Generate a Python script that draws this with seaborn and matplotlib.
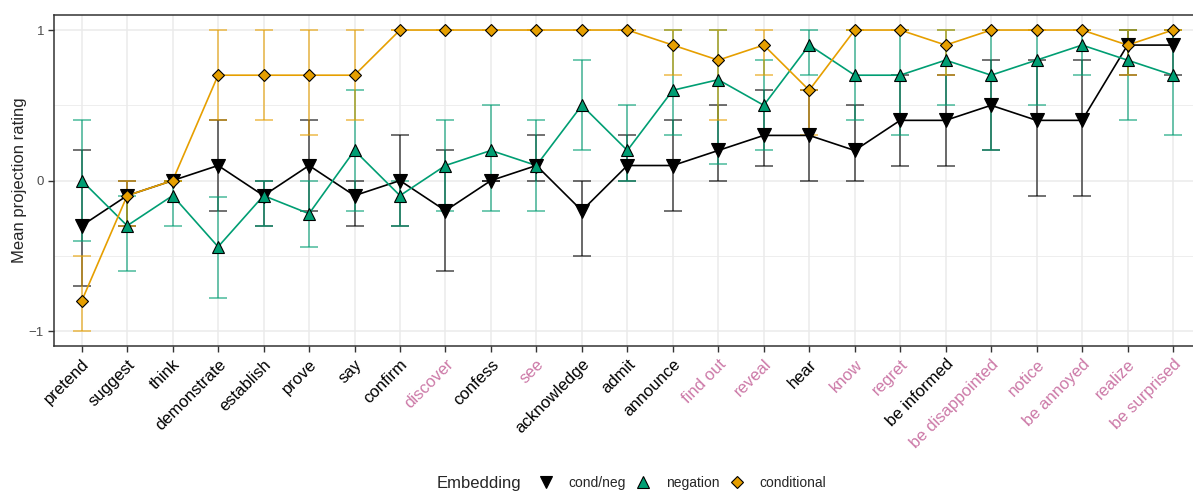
import numpy as np
import pandas as pd
import matplotlib
matplotlib.use('Agg')
import matplotlib.pyplot as plt
from matplotlib.lines import Line2D
import seaborn as sns

# verbs in plotted order
verbs = ['pretend', 'suggest', 'think', 'demonstrate', 'establish', 'prove', 'say',
         'confirm', 'discover', 'confess', 'see', 'acknowledge', 'admit', 'announce',
         'find out', 'reveal', 'hear', 'know', 'regret', 'be informed',
         'be disappointed', 'notice', 'be annoyed', 'realize', 'be surprised']
factive = ['discover', 'see', 'find out', 'reveal', 'know', 'regret', 'be disappointed',
           'notice', 'be annoyed', 'realize', 'be surprised']

# cond/neg
condneg_mean = [-0.3, -0.1, 0.0, 0.1, -0.1, 0.1, -0.1, 0.0, -0.2, 0.0, 0.1, -0.2, 0.1,
                0.1, 0.2, 0.3, 0.3, 0.2, 0.4, 0.4, 0.5, 0.4, 0.4, 0.9, 0.9]
condneg_lo = [-0.7, -0.3, 0.0, -0.2, -0.3, -0.2, -0.3, -0.3, -0.6, 0.0, 0.0, -0.5, 0.0,
              -0.2, 0.0, 0.1, 0.0, 0.0, 0.1, 0.1, 0.2, -0.1, -0.1, 0.7, 0.7]
condneg_hi = [0.2, 0.0, 0.0, 0.4, 0.0, 0.4, 0.0, 0.3, 0.2, 0.0, 0.3, 0.0, 0.3,
              0.4, 0.5, 0.6, 0.6, 0.5, 0.7, 0.7, 0.8, 0.8, 0.8, 1.0, 1.0]

# negation
neg_mean = [0.0, -0.3, -0.1, -0.44, -0.1, -0.22, 0.2, -0.1, 0.1, 0.2, 0.1, 0.5, 0.2,
            0.6, 0.67, 0.5, 0.9, 0.7, 0.7, 0.8, 0.7, 0.8, 0.9, 0.8, 0.7]
neg_lo = [-0.4, -0.6, -0.3, -0.78, -0.3, -0.44, -0.2, -0.3, -0.2, -0.2, -0.2, 0.2, 0.0,
          0.3, 0.11, 0.2, 0.7, 0.4, 0.3, 0.5, 0.2, 0.5, 0.7, 0.4, 0.3]
neg_hi = [0.4, -0.1, 0.0, -0.11, 0.0, 0.0, 0.6, 0.0, 0.4, 0.5, 0.4, 0.8, 0.5,
          1.0, 1.0, 0.8, 1.0, 1.0, 1.0, 1.0, 1.0, 1.0, 1.0, 1.0, 1.0]

# conditional
cond_mean = [-0.8, -0.1, 0.0, 0.7, 0.7, 0.7, 0.7, 1.0, 1.0, 1.0, 1.0, 1.0, 1.0,
             0.9, 0.8, 0.9, 0.6, 1.0, 1.0, 0.9, 1.0, 1.0, 1.0, 0.9, 1.0]
cond_lo = [-1.0, -0.3, 0.0, 0.4, 0.4, 0.3, 0.4, 1.0, 1.0, 1.0, 1.0, 1.0, 1.0,
           0.7, 0.4, 0.7, 0.3, 1.0, 1.0, 0.7, 1.0, 1.0, 1.0, 0.7, 1.0]
cond_hi = [-0.5, 0.0, 0.0, 1.0, 1.0, 1.0, 1.0, 1.0, 1.0, 1.0, 1.0, 1.0, 1.0,
           1.0, 1.0, 1.0, 0.6, 1.0, 1.0, 1.0, 1.0, 1.0, 1.0, 1.0, 1.0]

embeddings = ['cond/neg', 'negation', 'conditional']
colors = {'cond/neg': 'black', 'negation': '#009E73', 'conditional': '#E69F00'}
markers = {'cond/neg': 'v', 'negation': '^', 'conditional': 'D'}
msizes = {'cond/neg': 10, 'negation': 9, 'conditional': 6.5}

frames = []
for emb, m, lo, hi in [('cond/neg', condneg_mean, condneg_lo, condneg_hi),
                       ('negation', neg_mean, neg_lo, neg_hi),
                       ('conditional', cond_mean, cond_lo, cond_hi)]:
    frames.append(pd.DataFrame({'verb': verbs, 'mean': m, 'lo': lo, 'hi': hi,
                                'embedding': emb}))
df = pd.concat(frames, ignore_index=True)

sns.set_style('white')
plt.rcParams['font.family'] = ['Liberation Sans', 'DejaVu Sans']

fig = plt.figure(figsize=(11.93, 4.91), dpi=100)
ax = fig.add_axes([0.0456, 0.295, 0.9605, 0.6745])

# error bars first
for emb in embeddings:
    d = df[df['embedding'] == emb]
    yerr = np.vstack([d['mean'] - d['lo'], d['hi'] - d['mean']])
    ax.errorbar(d['verb'], d['mean'], yerr=yerr, fmt='none', ecolor=colors[emb],
                alpha=0.65, elinewidth=1.2, capsize=6.5, capthick=1.2, zorder=2)

# lines
sns.lineplot(data=df, x='verb', y='mean', hue='embedding', hue_order=embeddings,
             palette=colors, sort=False, legend=False, linewidth=1.2, ax=ax, zorder=3)

# points
for i, emb in enumerate(embeddings):
    d = df[df['embedding'] == emb]
    ax.plot(d['verb'], d['mean'], linestyle='none', marker=markers[emb],
            markersize=msizes[emb], markerfacecolor=colors[emb],
            markeredgecolor='black', markeredgewidth=0.8, zorder=4 + i)

ax.set_xlim(-0.6, len(verbs) - 0.4)
ax.set_ylim(-1.1, 1.1)
ax.set_yticks([-1, 0, 1])
ax.set_yticklabels(['\u22121', '0', '1'])
ax.set_yticks([-0.5, 0.5], minor=True)
ax.grid(True, which='major', color='#ebebeb', linewidth=1.1)
ax.grid(True, which='minor', axis='y', color='#ebebeb', linewidth=0.6)
ax.set_axisbelow(True)
for s in ax.spines.values():
    s.set_color('#333333')
    s.set_linewidth(1.1)

ax.tick_params(axis='both', which='major', direction='out', length=4, width=1,
               color='#333333', bottom=True, left=True)
ax.tick_params(axis='y', which='minor', left=False)
ax.tick_params(axis='y', labelsize=9.5, labelcolor='#4d4d4d')
ax.tick_params(axis='x', labelsize=12)
plt.setp(ax.get_xticklabels(), rotation=45, ha='right', rotation_mode='anchor')
for lab in ax.get_xticklabels():
    if lab.get_text() in factive:
        lab.set_color('#CC79A7')
    else:
        lab.set_color('black')

ax.set_xlabel('')
ax.set_ylabel('Mean projection rating', fontsize=12, labelpad=1)

handles = [Line2D([], [], linestyle='none', marker=markers[e], markersize=msizes[e] * 0.9,
                  markerfacecolor=colors[e], markeredgecolor='black', markeredgewidth=0.8)
           for e in embeddings]
fig.text(0.366, 0.016, 'Embedding', fontsize=12, va='center')
fig.legend(handles, embeddings, loc='center left', bbox_to_anchor=(0.44, 0.016),
           ncol=3, frameon=False, fontsize=10, handletextpad=0.6, columnspacing=0.3,
           borderpad=0)

fig.savefig('out.png', dpi=100)
